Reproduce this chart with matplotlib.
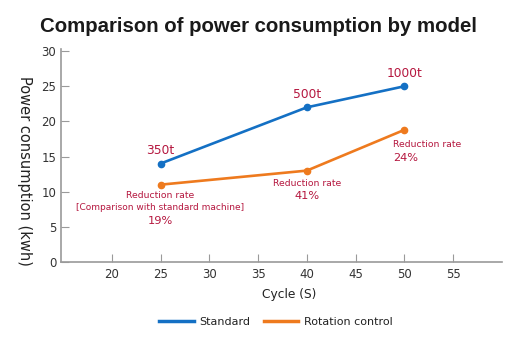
import matplotlib

matplotlib.use("Agg")
import matplotlib.pyplot as plt

# Cycle time (s) and power consumption (kWh) for each press size
CYCLES = [25, 40, 50]
STANDARD = [14, 22, 25]
ROTATION = [11, 13, 18.8]
SIZES = ["350t", "500t", "1000t"]
RATES = ["19%", "41%", "24%"]

BLUE = "#1470c4"
ORANGE = "#ee7a1e"
RED = "#b5173f"

plt.rcParams.update({
    "font.family": ["DejaVu Sans"],
    "font.size": 9,
})

fig = plt.figure(figsize=(5.17, 3.42), dpi=100)
ax = fig.add_axes([61 / 517, 1 - 262 / 342, 441 / 517, 213 / 342])

ax.plot(CYCLES, STANDARD, color=BLUE, lw=1.9, marker="o", ms=4.5, label="Standard")
ax.plot(CYCLES, ROTATION, color=ORANGE, lw=1.9, marker="o", ms=4.5,
        label="Rotation control")

ax.set_xlim(14.8, 60)
ax.set_ylim(0, 30.3)
ax.set_xticks(range(20, 60, 5))
ax.set_yticks(range(0, 31, 5))
ax.tick_params(direction="in", length=6, width=0.8, color="#9a9a9a",
               labelsize=8.5, labelcolor="#333333", pad=4.5)
ax.tick_params(axis="y", pad=3.5)
for side in ("top", "right"):
    ax.spines[side].set_visible(False)
for side in ("left", "bottom"):
    ax.spines[side].set_color("#9a9a9a")
    ax.spines[side].set_linewidth(1.2)

ax.set_xlabel("Cycle (S)", fontsize=8.8, color="#222222")
ax.xaxis.set_label_coords((289 - 61) / 441, -26 / 213)
fig.text(24 / 517, 1 - 171 / 342, "Power consumption (kwh)", rotation=-90,
         ha="center", va="center", fontsize=10.5, color="#222222")

# Press size above each standard point
for x, y, s in zip(CYCLES, STANDARD, SIZES):
    ax.annotate(s, (x, y), xytext=(0, 13), textcoords="offset pixels",
                ha="center", va="center", fontsize=8.8, color=RED)

# Reduction rate below each rotation-control point
ax.annotate("Reduction rate", (CYCLES[0], ROTATION[0]), xytext=(0, -11),
            textcoords="offset pixels", ha="center", va="center",
            fontsize=6.7, color=RED)
ax.annotate("[Comparison with standard machine]", (CYCLES[0], ROTATION[0]),
            xytext=(0, -23), textcoords="offset pixels", ha="center",
            va="center", fontsize=6.5, color=RED)
ax.annotate(RATES[0], (CYCLES[0], ROTATION[0]), xytext=(0, -36),
            textcoords="offset pixels", ha="center", va="center",
            fontsize=8.2, color=RED)

ax.annotate("Reduction rate", (CYCLES[1], ROTATION[1]), xytext=(0, -13),
            textcoords="offset pixels", ha="center", va="center",
            fontsize=6.7, color=RED)
ax.annotate(RATES[1], (CYCLES[1], ROTATION[1]), xytext=(0, -25),
            textcoords="offset pixels", ha="center", va="center",
            fontsize=8.2, color=RED)

ax.annotate("Reduction rate", (CYCLES[2], ROTATION[2]), xytext=(-11, -15),
            textcoords="offset pixels", ha="left", va="center",
            fontsize=6.7, color=RED)
ax.annotate(RATES[2], (CYCLES[2], ROTATION[2]), xytext=(-11, -28),
            textcoords="offset pixels", ha="left", va="center",
            fontsize=8.2, color=RED)

fig.text(258 / 517, 1 - 26 / 342, "Comparison of power consumption by model",
         ha="center", va="center", fontsize=14.7, fontweight="bold",
         family="Liberation Sans", color="#1a1a1a")

handles = [plt.Line2D([], [], color=BLUE, lw=2.5),
           plt.Line2D([], [], color=ORANGE, lw=2.5)]
fig.legend(handles, ["Standard", "Rotation control"], loc="center",
           bbox_to_anchor=(276 / 517, 1 - 322 / 342), ncol=2, frameon=False,
           fontsize=8, handlelength=3.1, columnspacing=1.2,
           handletextpad=0.5, labelcolor="#222222")

fig.savefig("out.png", dpi=100, facecolor="white")
